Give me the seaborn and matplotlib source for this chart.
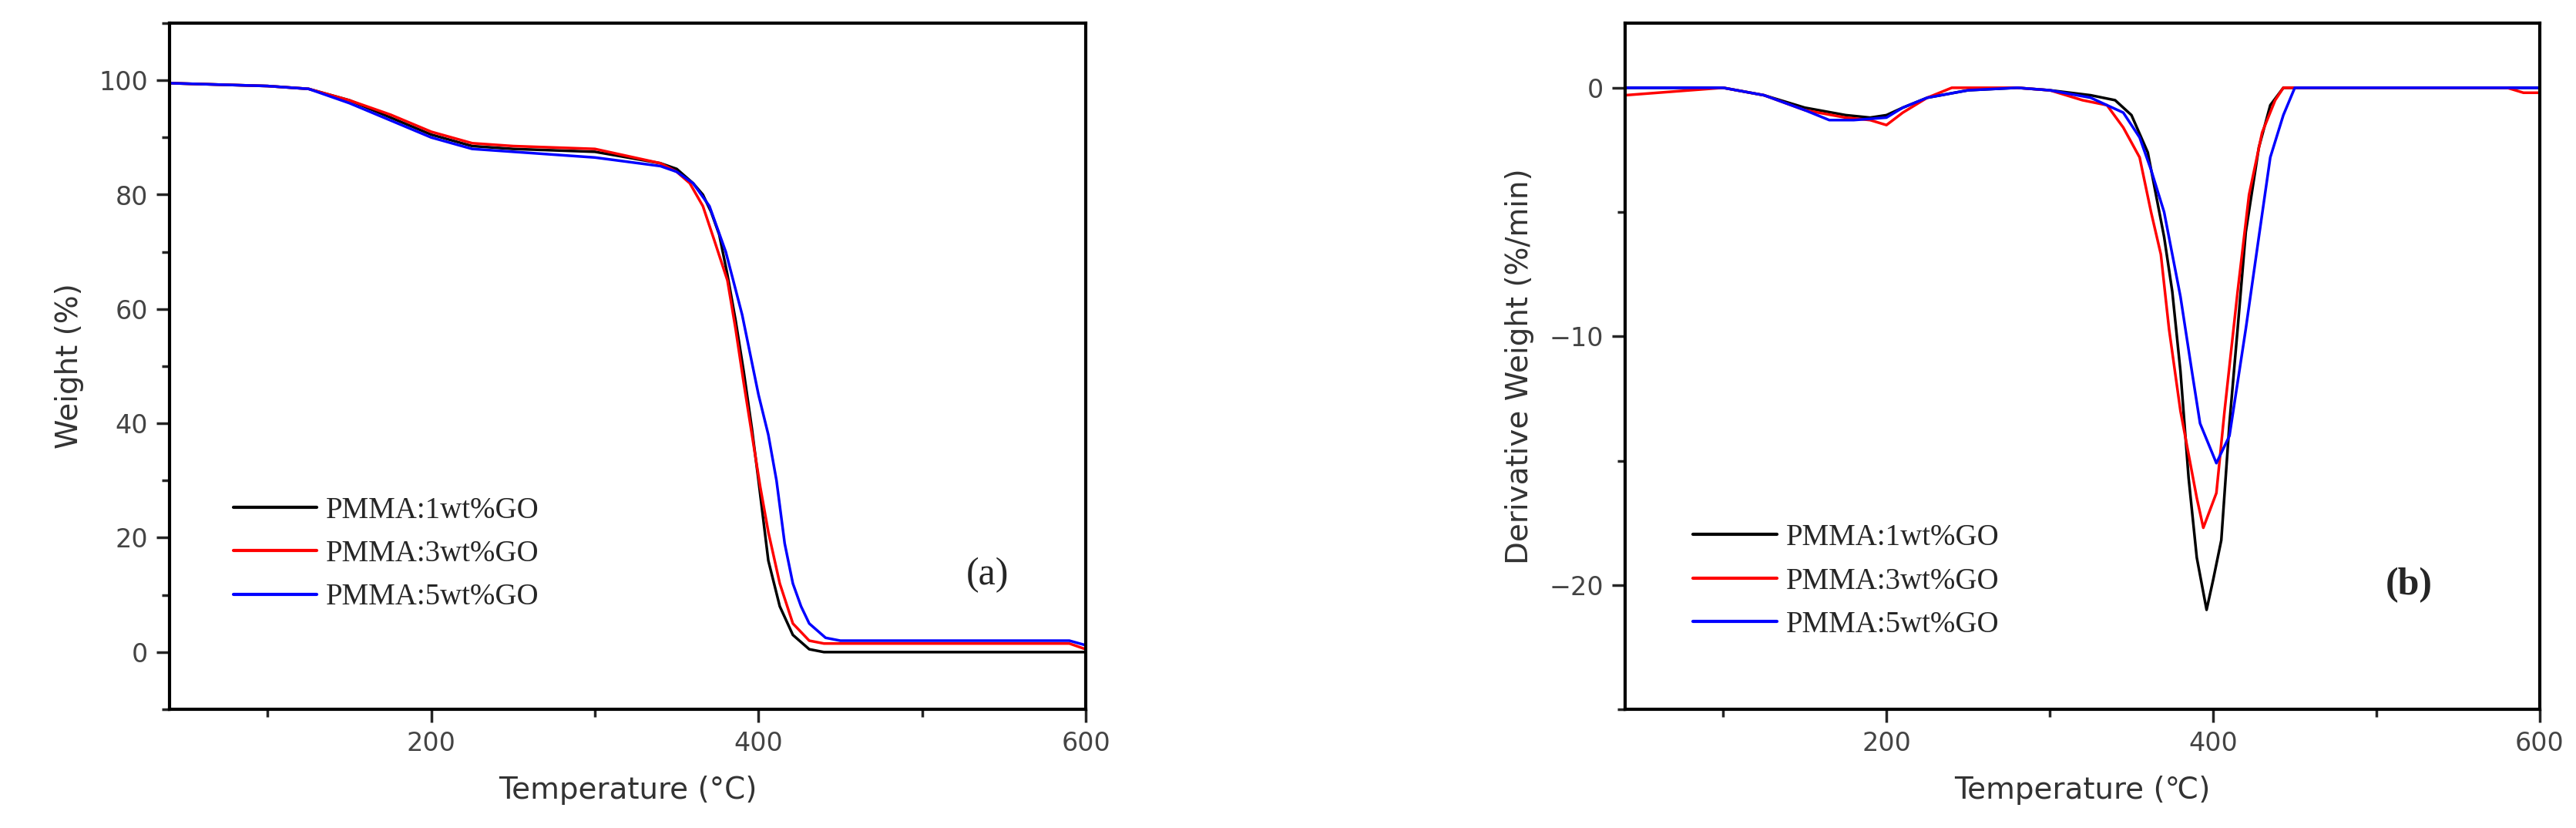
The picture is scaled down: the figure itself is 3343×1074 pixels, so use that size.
import numpy as np
import pandas as pd
import matplotlib
matplotlib.use("Agg")
import matplotlib.pyplot as plt
import seaborn as sns
from matplotlib.ticker import MultipleLocator

labels = ["PMMA:1wt%GO", "PMMA:3wt%GO", "PMMA:5wt%GO"]
colors = ["#000000", "#ff0000", "#0000ff"]

# TGA (a)
t1 = [40,100,125,150,175,200,225,250,300,340,350,360,366,371,376,381,386,391,396,400,406,413,421,431,440,600]
w1 = [99.5,99,98.5,96.5,93.5,90.5,88.5,88,87.5,85.5,84.5,82,80,77,73,66,58,49,39,30,16,8,3,0.5,0,0]
t3 = [40,100,125,150,175,200,225,250,300,340,350,358,366,373,381,386,391,396,401,406,413,421,431,440,590,600]
w3 = [99.5,99,98.5,96.5,94,91,89,88.5,88,85.5,84,82,78,72,65,56.5,47,38,29,21,12,5,2,1.5,1.5,0.5]
t5 = [40,100,125,150,175,200,225,250,300,340,350,360,370,380,390,395,400,406,411,416,421,426,431,441,450,590,600]
w5 = [99.5,99,98.5,96,93,90,88,87.5,86.5,85,84,82,78,70,59,52,45,38,30,19,12,8,5,2.5,2,2,1.2]

# DTG (b)
d1t = [40,100,125,150,175,190,200,210,225,250,280,300,325,340,350,360,365,370,375,380,385,390,396,400,405,410,415,420,428,435,443,600]
d1 = [0,0,-0.3,-0.8,-1.1,-1.2,-1.1,-0.8,-0.4,-0.1,0,-0.1,-0.3,-0.5,-1.1,-2.6,-4.3,-6,-8.2,-11.4,-15.7,-18.9,-21,-19.8,-18.2,-13.5,-9.7,-5.8,-2.4,-0.7,0,0]
d3t = [40,100,125,150,175,190,200,210,225,240,280,300,320,335,345,355,362,368,373,380,390,394,402,407,415,422,430,438,443,580,590,600]
d3 = [-0.3,0,-0.3,-0.9,-1.2,-1.3,-1.5,-1.0,-0.4,0,0,-0.1,-0.5,-0.7,-1.6,-2.8,-5,-6.7,-9.7,-13,-16.5,-17.7,-16.3,-13,-8.2,-4.3,-1.8,-0.5,0,0,-0.2,-0.2]
d5t = [40,100,125,150,165,180,200,210,225,250,280,300,325,345,355,362,370,375,380,387,392,402,410,420,428,435,443,450,600]
d5 = [0,0,-0.3,-0.9,-1.3,-1.3,-1.2,-0.8,-0.4,-0.1,0,-0.1,-0.4,-1.0,-2,-3.3,-5,-6.7,-8.4,-11.4,-13.5,-15.1,-14,-9.7,-6,-2.8,-1.1,0,0]

def long(tlists, vlists):
    rows = []
    for lab, ts, vs in zip(labels, tlists, vlists):
        for t, v in zip(ts, vs):
            rows.append((lab, t, v))
    return pd.DataFrame(rows, columns=["sample", "T", "v"])

dfa = long([t1, t3, t5], [w1, w3, w5])
dfb = long([d1t, d3t, d5t], [d1, d3, d5])

sns.set_style("white")
plt.rcParams['font.family'] = ['DejaVu Sans']
fig = plt.figure(figsize=(33.43, 10.74), dpi=100)
axa = fig.add_axes([220/3343, 1-920/1074, 1189/3343, 890/1074])
axb = fig.add_axes([2109/3343, 1-920/1074, 1187/3343, 890/1074])

pal = dict(zip(labels, colors))
for ax, df in [(axa, dfa), (axb, dfb)]:
    sns.lineplot(data=df, x="T", y="v", hue="sample", palette=pal, ax=ax,
                 linewidth=2.5, sort=False, estimator=None)
    ax.set_xlim(40, 600)
    ax.xaxis.set_major_locator(MultipleLocator(200))
    ax.xaxis.set_minor_locator(MultipleLocator(100))
    for s in ax.spines.values():
        s.set_linewidth(3)
        s.set_color("black")
    ax.tick_params(which="major", direction="out", length=12, width=2.5,
                   labelsize=24, labelcolor="#444444", bottom=True, left=True, pad=8)
    ax.tick_params(which="minor", direction="out", length=7, width=2.5, bottom=True, left=True)
    ax.set_xlabel("Temperature (°C)", fontsize=28, color="#333333", labelpad=18)
    ax.legend(handles=ax.get_legend_handles_labels()[0], labels=labels, frameon=False,
              loc="upper left", prop={"family": "Liberation Serif", "size": 28},
              handlelength=2.8, labelspacing=0.5, handletextpad=0.3,
              bbox_to_anchor=(0.04, 0.35) if ax is axa else (0.045, 0.31))
    for l in ax.get_legend().get_lines():
        l.set_linewidth(3)

axa.set_ylim(-10, 110)
axa.yaxis.set_major_locator(MultipleLocator(20))
axa.yaxis.set_minor_locator(MultipleLocator(10))
axa.set_ylabel("Weight (%)", fontsize=28, color="#333333", labelpad=14)
axa.text(540, 13.5, "(a)", fontsize=36, family="Liberation Serif", ha="center", va="center")

axb.set_ylim(-25, 2.6)
axb.yaxis.set_major_locator(MultipleLocator(10))
axb.yaxis.set_minor_locator(MultipleLocator(5))
axb.set_ylabel("Derivative Weight (%/min)", fontsize=28, color="#333333", labelpad=14)
axb.set_xlabel("Temperature (℃)", fontsize=28, color="#333333", labelpad=18)
axb.text(520, -20, "(b)", fontsize=36, family="Liberation Serif", fontweight="bold",
         ha="center", va="center")

fig.savefig("out.png", dpi=100)
